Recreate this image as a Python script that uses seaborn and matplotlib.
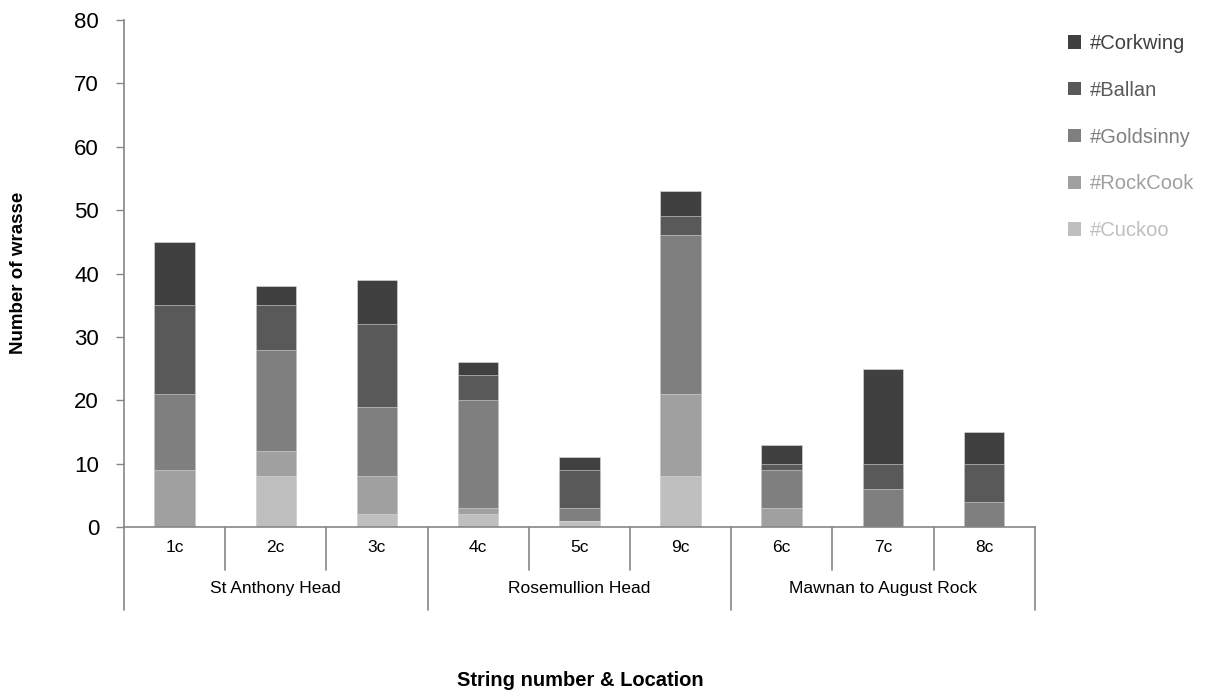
import pandas as pd
import matplotlib
matplotlib.use("Agg")
import matplotlib.pyplot as plt
import matplotlib.transforms as mtransforms
from matplotlib.patches import Patch
import seaborn as sns

# Du lieu doc tu hinh goc
strings = ["1c", "2c", "3c", "4c", "5c", "9c", "6c", "7c", "8c"]
locations = ["St Anthony Head", "Rosemullion Head", "Mawnan to August Rock"]
species = ["#Cuckoo", "#RockCook", "#Goldsinny", "#Ballan", "#Corkwing"]
cuckoo = [0, 8, 2, 2, 1, 8, 0, 0, 0]
rockcook = [9, 4, 6, 1, 0, 13, 3, 0, 0]
goldsinny = [12, 16, 11, 17, 2, 25, 6, 6, 4]
ballan = [14, 7, 13, 4, 6, 3, 1, 4, 6]
corkwing = [10, 3, 7, 2, 2, 4, 3, 15, 5]
colors = ["#bfbfbf", "#a0a0a0", "#7f7f7f", "#595959", "#404040"]

sns.set_style("white")
plt.rcParams['font.family'] = ['Liberation Sans', 'DejaVu Sans']
plt.rcParams['text.color'] = 'black'
plt.rcParams['ytick.labelcolor'] = 'black'

df = pd.DataFrame({
    'string': strings,
    '#Cuckoo': cuckoo,
    '#RockCook': rockcook,
    '#Goldsinny': goldsinny,
    '#Ballan': ballan,
    '#Corkwing': corkwing,
})
# cong don de ve cot chong
cum = df[species].cumsum(axis=1)
cum['string'] = df['string']

fig = plt.figure(figsize=(12.17, 6.92), dpi=100)
ax = fig.add_axes([0.1019, 0.2384, 0.7483, 0.7327])

# ve tu tren xuong duoi de cac lop de len nhau
for sp, c in reversed(list(zip(species, colors))):
    sns.barplot(data=cum, x='string', y=sp, order=strings, color=c,
                width=0.4, saturation=1, edgecolor='#dddddd', linewidth=0.4, ax=ax)

ax.set_xlim(-0.5, 8.5)
ax.set_ylim(0, 80)
ax.set_yticks(range(0, 81, 10))
ax.tick_params(axis='y', labelsize=16, labelcolor='black', length=6, width=1,
               color='#868686', left=True, pad=12)
ax.set_xticks(range(len(strings)))
ax.set_xticklabels([])
ax.tick_params(axis='x', length=0)
for s in ['top', 'right']:
    ax.spines[s].set_visible(False)
for s in ['left', 'bottom']:
    ax.spines[s].set_color('#868686')
    ax.spines[s].set_linewidth(1.2)
ax.set_xlabel('')
ax.set_ylabel('')

# truc phan nhom ben duoi
tr = mtransforms.blended_transform_factory(ax.transData, ax.transAxes)
for i, s in enumerate(strings):
    ax.text(i, -0.04, s, transform=tr, ha='center', va='center', fontsize=12.5)
for k in range(1, len(strings)):
    if k % 3 != 0:
        ax.plot([k - 0.5, k - 0.5], [0, -0.085], transform=tr, color='#868686',
                lw=1.2, clip_on=False)
for k in range(0, len(strings) + 1, 3):
    ax.plot([k - 0.5, k - 0.5], [0, -0.164], transform=tr, color='#868686',
            lw=1.2, clip_on=False)
for j, loc in enumerate(locations):
    ax.text(3 * j + 1, -0.121, loc, transform=tr, ha='center', va='center', fontsize=12.5)

fig.text(0.477, 1 - 680 / 692, 'String number & Location', ha='center', va='center',
         fontsize=14.5, fontweight='bold')
fig.text(0.015, 1 - 273 / 692, 'Number of wrasse', ha='center', va='center',
         rotation=90, fontsize=13.5, fontweight='bold')

# chu giai
handles = [Patch(facecolor=c, edgecolor='none') for c in reversed(colors)]
leg = fig.legend(handles, list(reversed(species)), loc='upper left',
                 bbox_to_anchor=(0.863, 0.977), frameon=False, fontsize=14.5,
                 handlelength=0.65, handleheight=0.65, handletextpad=0.4,
                 labelspacing=1.38)
for t, c in zip(leg.get_texts(), reversed(colors)):
    t.set_color(c)

plt.savefig('out.png', dpi=100)
